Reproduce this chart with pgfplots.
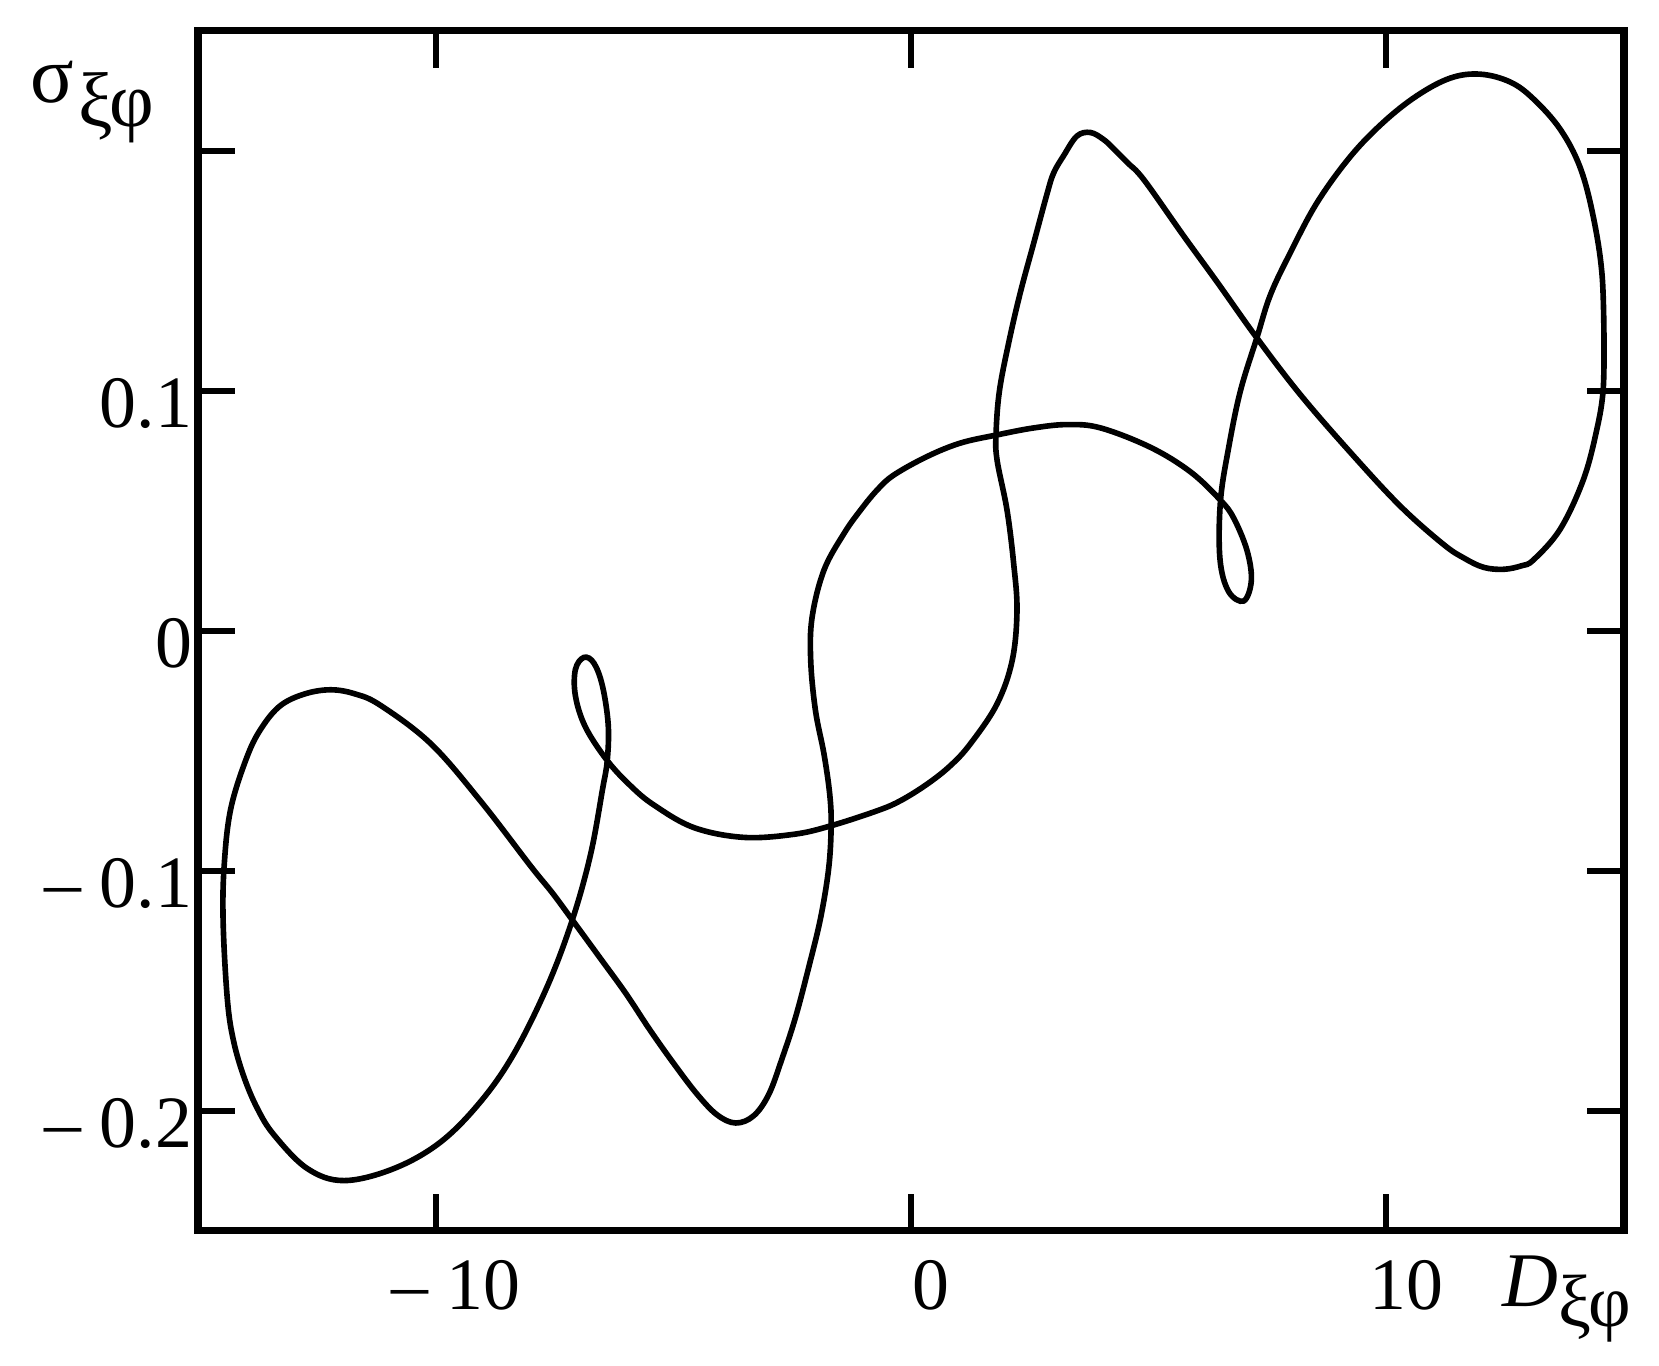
\documentclass[border=0pt]{standalone}
\usepackage{fontspec}
\setmainfont{Liberation Serif}
\usepackage{pgfplots}
\pgfplotsset{compat=1.18}

\begin{document}
\begin{tikzpicture}
\useasboundingbox (-1.98,-1.35) rectangle (14.61,12.31);
\begin{axis}[
  at={(0,0)}, anchor=south west,
  scale only axis,
  width=14.26cm, height=12cm,
  xmin=-15, xmax=15, ymin=-0.25, ymax=0.25,
  axis line style={line width=2pt},
  tick align=inside,
  xtick pos=both, ytick pos=both,
  major tick length=0.37cm,
  every tick/.style={black, line width=1.8pt},
  xtick={-10,0,10},
  xticklabels={– 10,0,10},
  ytick={-0.2,-0.1,0,0.1,0.2},
  yticklabels={– 0.2,– 0.1,0,0.1,{}},
  tick label style={font=\fontsize{21}{25}\selectfont},
  xticklabel style={xshift=0.2cm, yshift=-0.17cm},
  yticklabel style={xshift=0.065cm, yshift=-0.12cm},
  clip=false,
]
% phase curve
\addplot[black, line width=1.6pt, smooth, tension=0.6] coordinates {
  (14.58,0.119) (14.54,0.148) (14.36,0.172) (14.08,0.193) (13.66,0.209)
  (13.10,0.2216) (12.61,0.2287) (11.98,0.232) (11.35,0.2304) (10.65,0.2231)
  (9.94,0.212) (9.24,0.1976) (8.54,0.1784) (7.98,0.1576) (7.56,0.140)
  (7.28,0.1224) (6.93,0.100) (6.68,0.0761) (6.51,0.054) (6.50,0.030)
  (6.68,0.0165) (7.00,0.0125) (7.16,0.021) (7.07,0.0335) (6.79,0.047)
  (6.51,0.0545) (5.88,0.0663) (5.04,0.0765) (3.99,0.0846) (3.29,0.086)
  (2.58,0.0846) (1.81,0.0817) (1.04,0.0783) (0.34,0.0727) (-0.36,0.0650)
  (-0.71,0.0588) (-1.06,0.0504) (-1.41,0.0406) (-1.83,0.0254) (-2.08,0.0058)
  (-2.11,-0.0122) (-2.01,-0.0331) (-1.83,-0.0513) (-1.71,-0.068) (-1.68,-0.081)
  (-1.73,-0.0986) (-1.90,-0.1194) (-2.15,-0.140) (-2.43,-0.161) (-2.71,-0.178)
  (-2.99,-0.193) (-3.31,-0.202) (-3.69,-0.205) (-4.08,-0.2016) (-4.5,-0.193)
  (-5.0,-0.180) (-5.5,-0.166) (-6.0,-0.151) (-6.55,-0.136) (-7.125,-0.1204)
  (-7.55,-0.109) (-8.0,-0.098) (-9.05,-0.071) (-10.1,-0.047) (-11.16,-0.031)
  (-11.7,-0.0262) (-12.21,-0.0245) (-12.75,-0.0262) (-13.26,-0.031) (-13.65,-0.040)
  (-13.96,-0.052) (-14.31,-0.074) (-14.45,-0.098) (-14.47,-0.122) (-14.38,-0.154)
  (-14.25,-0.171) (-14.03,-0.186) (-13.75,-0.199) (-13.4,-0.210) (-12.7,-0.224)
  (-11.93,-0.229) (-10.88,-0.224) (-9.9,-0.213) (-9.05,-0.196) (-8.35,-0.176)
  (-7.65,-0.148) (-7.125,-0.1204) (-6.74,-0.093) (-6.49,-0.066) (-6.39,-0.054)
  (-6.37,-0.039) (-6.49,-0.023) (-6.67,-0.0134) (-6.88,-0.011) (-7.06,-0.016)
  (-7.06,-0.027) (-6.85,-0.040) (-6.39,-0.054) (-5.9,-0.0645) (-5.41,-0.0725)
  (-4.57,-0.0819) (-3.52,-0.086) (-2.46,-0.0847) (-1.69,-0.0812) (-0.71,-0.0749)
  (-0.22,-0.0707) (0.34,-0.0638) (0.83,-0.0561) (1.25,-0.047) (1.81,-0.0304)
  (2.13,-0.0122) (2.23,0.0086) (2.16,0.0281) (2.02,0.0504) (1.81,0.0713)
  (1.79,0.0824) (1.86,0.100) (2.06,0.1205) (2.30,0.141) (2.58,0.1615)
  (2.86,0.182) (3.0,0.1908) (3.21,0.198) (3.49,0.2062) (3.775,0.2077)
  (4.05,0.2048) (4.26,0.201) (4.55,0.1952) (4.90,0.188) (5.74,0.1645)
  (6.44,0.1454) (7.28,0.122) (8.19,0.0985) (9.24,0.0745) (10.29,0.0521)
  (11.2,0.0361) (11.65,0.0302) (12.05,0.0265) (12.47,0.0257) (12.85,0.0272)
  (13.1,0.0297) (13.66,0.0425) (14.15,0.0633) (14.43,0.0841) (14.56,0.100)
  (14.58,0.119)
};
\end{axis}
\node[anchor=base west, inner sep=0pt, font=\fontsize{23}{27}\selectfont]
  at (-1.68,11.28) {σ\kern0.05em\raisebox{-0.24cm}{\fontsize{22}{26}\selectfont ξφ}};
\node[anchor=base west, inner sep=0pt, font=\fontsize{22}{26}\selectfont]
  at (13.04,-0.76) {\textit{D}\raisebox{-0.2cm}{\fontsize{21}{25}\selectfont ξφ}};
\end{tikzpicture}
\end{document}
